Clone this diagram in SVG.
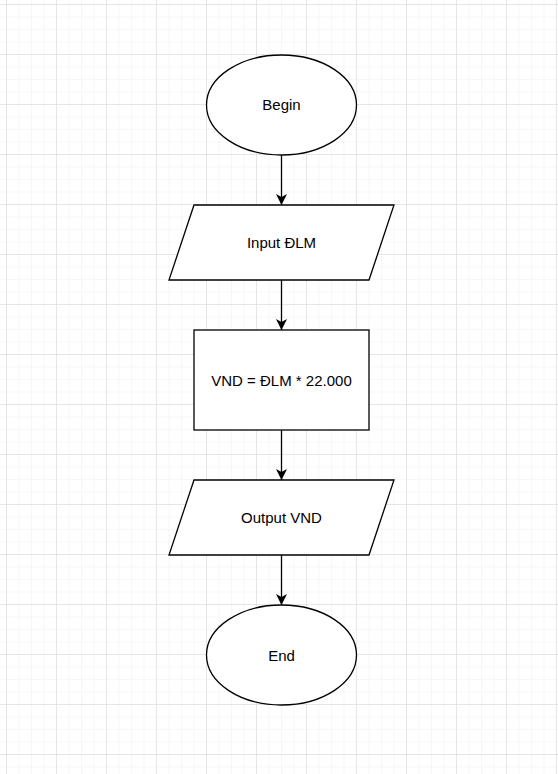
<svg xmlns="http://www.w3.org/2000/svg" width="558" height="774" viewBox="0 0 558 774">
  <defs>
    <pattern id="minor" x="6" y="4" width="12.5" height="12.5" patternUnits="userSpaceOnUse">
      <path d="M0 0H12.5M0 0V12.5" fill="none" stroke="#f0f0f0" stroke-width="1"/>
    </pattern>
    <pattern id="major" x="6" y="4" width="50" height="50" patternUnits="userSpaceOnUse">
      <path d="M0 0H50M0 0V50" fill="none" stroke="#d6d6d6" stroke-width="1"/>
    </pattern>
    <marker id="arrow" viewBox="0 0 11 11" refX="11" refY="5.5" markerWidth="11" markerHeight="11" markerUnits="userSpaceOnUse" orient="auto">
      <path d="M0 0L11 5.5L0 11L3 5.5Z" fill="#000"/>
    </marker>
  </defs>
  <style>
    .shape { fill: #fff; stroke: #000; stroke-width: 1.3; }
    .label { font-family: "Liberation Sans", Arial, sans-serif; font-size: 15px; fill: #000; text-anchor: middle; }
    .edge { stroke: #000; stroke-width: 1.3; fill: none; marker-end: url(#arrow); }
  </style>

  <!-- canvas grid -->
  <rect width="558" height="774" fill="#fff"/>
  <rect width="558" height="774" fill="url(#minor)"/>
  <rect width="558" height="774" fill="url(#major)"/>

  <g id="connectors">
    <path class="edge" d="M281.5 155V205"/>
    <path class="edge" d="M281.5 280V330"/>
    <path class="edge" d="M281.5 430V480"/>
    <path class="edge" d="M281.5 555V605"/>
  </g>

  <g id="begin">
    <ellipse class="shape" cx="281.5" cy="105" rx="75" ry="50"/>
    <text class="label" x="281.5" y="110">Begin</text>
  </g>

  <g id="input">
    <polygon class="shape" points="194,205 394,205 369,280 169,280"/>
    <text class="label" x="281.5" y="248">Input ĐLM</text>
  </g>

  <g id="compute">
    <rect class="shape" x="194" y="330" width="175" height="100"/>
    <text class="label" x="281.5" y="385.5">VND = ĐLM * 22.000</text>
  </g>

  <g id="output">
    <polygon class="shape" points="194,480 394,480 369,555 169,555"/>
    <text class="label" x="281.5" y="523">Output VND</text>
  </g>

  <g id="end">
    <ellipse class="shape" cx="281.5" cy="655" rx="75" ry="50"/>
    <text class="label" x="281.5" y="660.5">End</text>
  </g>
</svg>
